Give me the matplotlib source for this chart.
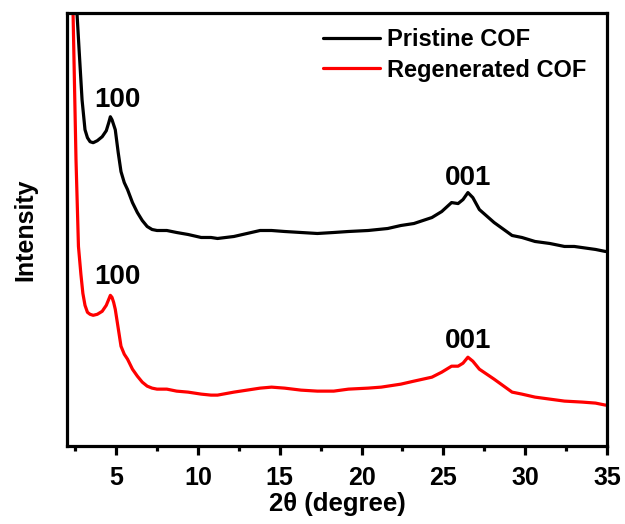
import matplotlib
matplotlib.use("Agg")
import matplotlib.pyplot as plt

plt.rcParams['font.family'] = ['Liberation Sans', 'DejaVu Sans']
plt.rcParams['font.weight'] = 'bold'

# 2-theta positions (degree)
x_pristine = [2.5, 2.61, 2.74, 2.92, 3.1, 3.25, 3.41, 3.6, 3.85, 4.15, 4.4, 4.55, 4.65, 4.75, 4.85,
              4.95, 5.13, 5.3, 5.5, 5.7, 6.0, 6.3, 6.6, 6.9, 7.2, 7.5, 8.1, 8.7, 9.4, 10.2, 10.8,
              11.2, 12.2, 13.0, 13.8, 14.5, 15.3, 16.3, 17.3, 18.3, 19.2, 20.4, 21.6, 22.4, 23.2,
              24.3, 24.9, 25.5, 25.9, 26.2, 26.5, 26.8, 27.2, 28.1, 29.2, 29.8, 30.6, 31.5, 32.4,
              33.0, 34.3, 34.9, 35.0]
y_pristine = [470, 434, 397, 347, 317, 309, 305, 304, 306, 310, 316, 324, 330, 327, 322,
              317, 294, 275, 264, 257, 244, 234, 226, 220, 217, 216, 216, 214, 212, 209, 209,
              208, 210, 213, 216, 216, 215, 214, 213, 214, 215, 216, 218, 221, 223,
              229, 235, 244, 243, 247, 254, 249, 237, 224, 211, 209, 205, 203, 200,
              200, 197, 195, 195]

x_regen = [2.3, 2.37, 2.55, 2.7, 2.85, 2.97, 3.1, 3.25, 3.41, 3.6, 3.85, 4.15, 4.4, 4.55, 4.65,
           4.75, 4.85, 4.95, 5.13, 5.3, 5.5, 5.7, 6.0, 6.3, 6.6, 6.9, 7.2, 7.5, 8.1, 8.7, 9.4,
           10.2, 10.8, 11.2, 12.2, 13.0, 13.8, 14.5, 15.3, 16.3, 17.3, 18.3, 19.2, 20.4, 21.2,
           21.6, 22.4, 23.2, 24.3, 24.9, 25.5, 25.9, 26.2, 26.5, 26.8, 27.2, 28.1, 29.2, 29.8,
           30.6, 31.5, 32.4, 33.5, 34.3, 34.9, 35.0]
y_regen = [470, 434, 287, 200, 172, 153, 141, 134, 132, 131, 132, 135, 141, 147, 151,
           149, 144, 137, 118, 100, 92, 87, 77, 70, 64, 60, 58, 57, 57, 55, 54,
           52, 51, 51, 54, 56, 58, 59, 58, 56, 55, 55, 57, 58, 59,
           60, 62, 65, 69, 74, 80, 80, 83, 89, 85, 77, 67, 54, 52,
           49, 47, 45, 44, 43, 41, 41]

labels = ["Pristine COF", "Regenerated COF"]
peak_labels = ["100", "001"]
peak_x = [5.07, 26.5]
peak_y_pristine = [347, 269]
peak_y_regen = [169, 105]

fig = plt.figure(figsize=(6.25, 5.24), dpi=100)
ax = fig.add_axes([67/625, 1-446/524, 540/625, 433/524])

ax.plot(x_pristine, y_pristine, color='black', lw=2.3, label=labels[0],
        solid_joinstyle='round', solid_capstyle='round')
ax.plot(x_regen, y_regen, color='#ff0000', lw=2.3, label=labels[1],
        solid_joinstyle='round', solid_capstyle='round')

for i, (px, py) in enumerate(zip(peak_x, peak_y_pristine)):
    ax.text(px, py, peak_labels[i], ha='center', va='center', fontsize=20, fontweight='bold')
for i, (px, py) in enumerate(zip(peak_x, peak_y_regen)):
    ax.text(px, py, peak_labels[i], ha='center', va='center', fontsize=20, fontweight='bold')

ax.set_xlim(2, 35)
ax.set_ylim(0, 434)
ax.set_xticks([5, 10, 15, 20, 25, 30, 35])
ax.set_xticks([2.5, 7.5, 12.5, 17.5, 22.5, 27.5, 32.5], minor=True)
ax.set_yticks([])
ax.tick_params(axis='x', which='major', length=6.5, width=2.3, direction='out', labelsize=18, pad=8)
ax.tick_params(axis='x', which='minor', length=3.8, width=2.3, direction='out')
for lab in ax.get_xticklabels():
    lab.set_fontweight('bold')
for s in ax.spines.values():
    s.set_linewidth(2.3)

ax.set_xlabel("2θ (degree)", fontsize=18.5, fontweight='bold', labelpad=1)
ax.set_ylabel("Intensity", fontsize=18, fontweight='bold', labelpad=21)

leg = ax.legend(loc='upper left', bbox_to_anchor=(0.474, 0.965), frameon=False,
                fontsize=17, handlelength=2.4, handletextpad=0.3, labelspacing=0.32,
                borderaxespad=0, borderpad=0)
for t in leg.get_texts():
    t.set_fontweight('bold')

fig.savefig("out.png", dpi=100)
